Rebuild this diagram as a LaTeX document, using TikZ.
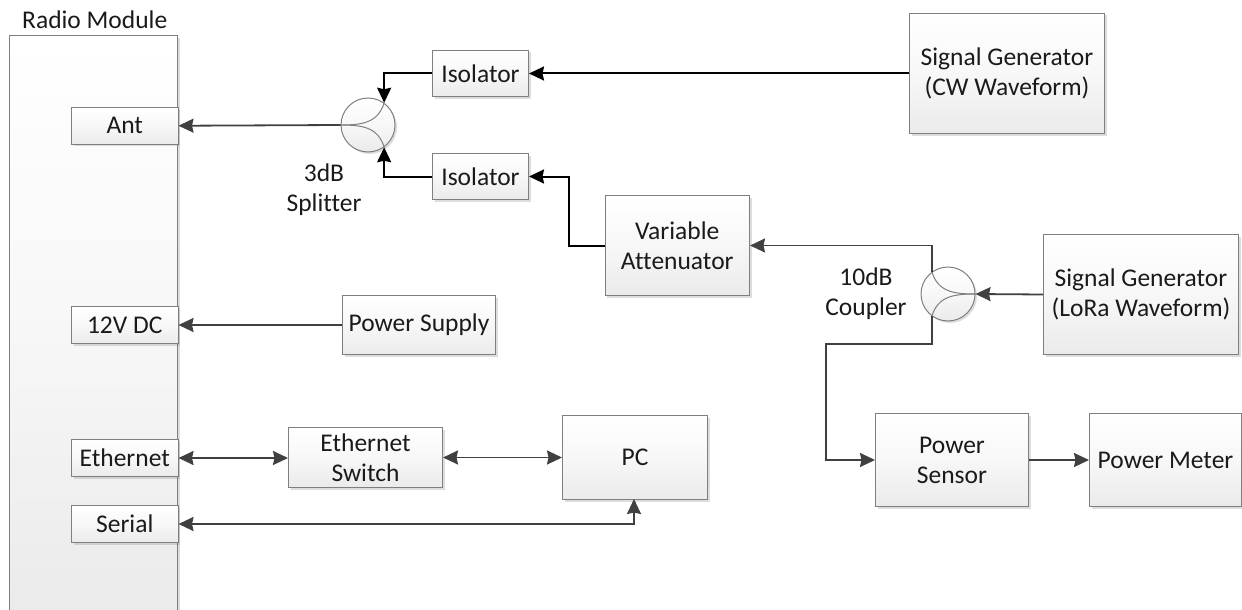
\documentclass[tikz,border=0pt]{standalone}
\usepackage{fontspec}
\setmainfont[RawFeature={-liga;-clig;-dlig}]{Carlito}
\usetikzlibrary{arrows.meta,shadows,calc}
\definecolor{edgeg}{HTML}{7F7F7F}
\definecolor{linek}{HTML}{404040}
\definecolor{textk}{HTML}{1A1A1A}
\tikzset{
  boxshade/.style={top color=white,bottom color=black!8,middle color=black!3},
  softshadow/.style={drop shadow={shadow xshift=2pt,shadow yshift=-2pt,opacity=.22,fill=black!60}},
  blockbox/.style={draw=edgeg,line width=1pt,boxshade,softshadow,inner sep=0pt,align=center,anchor=north west,text=textk,font=\fontsize{25.5}{30}\selectfont},
  hybrid/.style={circle,draw=edgeg,line width=1pt,boxshade,softshadow,inner sep=0pt,minimum size=54pt},
  inner/.style={draw=edgeg,line width=1pt},
  wire/.style={draw=linek,line width=1.8pt},
  strongwire/.style={draw=black,line width=2pt},
  tip/.style={-{Stealth[length=15pt,width=14pt,inset=1.5pt]}},
  bothtip/.style={{Stealth[length=15pt,width=14pt,inset=1.5pt]}-{Stealth[length=15pt,width=14pt,inset=1.5pt]}},
  label/.style={text=textk,align=center,inner sep=0pt,font=\fontsize{25.5}{30}\selectfont}
}
\newcommand{\pxbox}[7][blockbox]{% style,name,x1,y1,x2,y2,text
  \node[#1,minimum width=#5pt-#3pt,minimum height=#6pt-#4pt] (#2) at (#3,#4) {#7};}
\begin{document}
\begin{tikzpicture}[x=1pt,y=-1pt]
\useasboundingbox (0,0) rectangle (1242,610);
% Radio module body: open at the bottom edge of the picture
\node[boxshade,softshadow,inner sep=0pt,anchor=north west,minimum width=168pt,minimum height=574pt] (module) at (9.5,36) {};
\draw[edgeg,line width=1pt] (module.south west) |- (module.north east) -- (module.south east);
\node[label,anchor=base west] (modlabel) at (22,29) {Radio Module};

\pxbox{ant}{71}{107}{177.5}{143.5}{Ant}
\pxbox{dc}{71}{306}{177.5}{343}{12V DC}
\pxbox{eth}{71}{439}{177.5}{476}{Ethernet}
\pxbox{ser}{71}{505}{177.5}{542}{Serial}

\pxbox{isoa}{432}{50}{528}{96}{Isolator}
\pxbox{isob}{432}{153}{528}{199}{Isolator}
\pxbox{cw}{909}{13}{1104}{133}{Signal Generator\\(CW Waveform)}
\pxbox{att}{604.5}{195}{749}{295}{Variable\\Attenuator}
\pxbox{lora}{1043}{234}{1238}{354}{Signal Generator\\(LoRa Waveform)}
\pxbox{psu}{342}{295}{495}{354}{Power Supply}
\pxbox{sw}{288}{427}{442}{487}{Ethernet\\Switch}
\pxbox{pc}{562}{415}{707}{499}{PC}
\pxbox{sensor}{875}{413}{1028}{506}{Power\\Sensor}
\pxbox{meter}{1089}{413}{1241}{506}{Power Meter}

% Hybrids
\node[hybrid] (split) at (368,125) {};
\node[hybrid] (coup) at (948,294) {};
\draw[inner] (split.west) .. controls (362,125) and (378,123) .. (split.54);
\draw[inner] (split.west) .. controls (362,125) and (378,127) .. (split.-54);
\draw[inner] (coup.east) .. controls (954,294) and (938,292) .. (coup.126);
\draw[inner] (coup.east) .. controls (954,294) and (938,296) .. (coup.-126);

\node[label] (splitlabel) at (324,190) {3dB\\Splitter};
\node[label] (couplabel) at (866,294) {10dB\\Coupler};

\coordinate (bendatt) at (569,245);
\coordinate (bendcoup) at (826,344);
\coordinate (pcfoot) at (634,499);

% Connectors
\draw[strongwire,tip] (isoa.west) -| (split.54);
\draw[strongwire,tip] (isob.west) -| (split.-54);
\draw[strongwire,tip] (cw.west |- isoa.east) -- (isoa.east);
\draw[strongwire,tip] (att.west) -| (bendatt) |- (isob.east);
\draw[wire,tip] (split.west) -- (ant.east);
\draw[wire,tip] (psu.west) -- (dc.east);
\draw[wire,bothtip] (eth.east) -- (eth.east -| sw.west);
\draw[wire,bothtip] (sw.east) -- (sw.east -| pc.west);
\draw[wire,bothtip] (ser.east) -| (pcfoot);
\draw[wire,tip] (coup.126) |- (att.east);
\draw[wire,tip] (lora.west) -- (coup.east);
\draw[wire,tip] (coup.-126) |- (bendcoup) |- (sensor.west);
\draw[wire,tip] (sensor.east) -- (meter.west);
\end{tikzpicture}
\end{document}
